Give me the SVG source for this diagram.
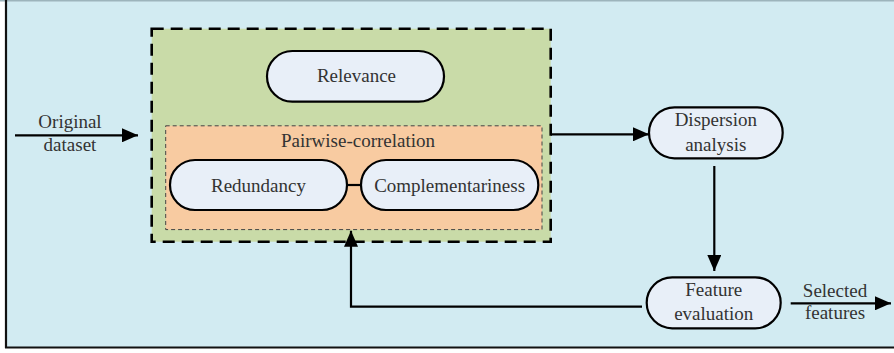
<svg xmlns="http://www.w3.org/2000/svg" width="894" height="353" viewBox="0 0 894 353">
<style>
text{font-family:"Liberation Serif","Times New Roman",serif;font-size:19px;fill:#333;text-anchor:middle}
.pill{fill:#E8EFF8;stroke:#000;stroke-width:2.2}
.ln{fill:none;stroke:#000;stroke-width:2.2}
</style>
<defs>
<marker id="ah" markerWidth="16" markerHeight="14" refX="16" refY="7" orient="auto" markerUnits="userSpaceOnUse">
<path d="M0,0 L16,7 L0,14 Z" fill="#000"/>
</marker>
</defs>
<rect x="0" y="0" width="894" height="353" fill="#fff"/>
<rect x="6" y="0.5" width="900" height="347" fill="#D2EBF2"/>
<line x1="0" y1="0.8" x2="894" y2="0.8" stroke="#9DB4BC" stroke-width="1.6"/>
<line x1="6" y1="0" x2="6" y2="348" stroke="#111" stroke-width="2.2"/>
<line x1="5" y1="347.5" x2="894" y2="347.5" stroke="#111" stroke-width="2.2"/>
<g id="green-box">
<rect x="151.7" y="28.7" width="399" height="213" fill="#C9DBA8" stroke="#000" stroke-width="2.6" stroke-dasharray="12,7"/>
</g>
<g id="pairwise-box">
<rect x="165.7" y="125.8" width="376.3" height="103.8" fill="#F8CBA1" stroke="#444" stroke-width="1" stroke-dasharray="4,3"/>
<text x="358" y="147">Pairwise-correlation</text>
</g>
<g id="connectors">
<line class="ln" x1="15" y1="135.3" x2="138" y2="135.3" marker-end="url(#ah)"/>
<line class="ln" x1="551" y1="134.3" x2="649" y2="134.3" marker-end="url(#ah)"/>
<line class="ln" x1="714.3" y1="166" x2="714.3" y2="271" marker-end="url(#ah)"/>
<polyline class="ln" points="642,306.7 351,306.7 351,230.7" marker-end="url(#ah)"/>
<line class="ln" x1="790.7" y1="303.3" x2="891" y2="303.3" marker-end="url(#ah)"/>
<line class="ln" x1="347" y1="185" x2="361" y2="185"/>
</g>
<g id="original-label">
<text x="70" y="128.3">Original</text>
<text x="70" y="151">dataset</text>
</g>
<g id="relevance">
<rect class="pill" x="267" y="51" width="177" height="50.7" rx="25.3"/>
<text x="356.5" y="82">Relevance</text>
</g>
<g id="redundancy">
<rect class="pill" x="170" y="160" width="177" height="50" rx="25"/>
<text x="258.5" y="192">Redundancy</text>
</g>
<g id="complementariness">
<rect class="pill" x="361" y="160" width="177.3" height="50" rx="25"/>
<text x="449.6" y="192">Complementariness</text>
</g>
<g id="dispersion">
<rect class="pill" x="649" y="107.3" width="133.7" height="51" rx="25.5"/>
<text x="715.8" y="126">Dispersion</text>
<text x="715.8" y="151">analysis</text>
</g>
<g id="feature-evaluation">
<rect class="pill" x="646.7" y="277.3" width="134" height="51" rx="25.5"/>
<text x="713.7" y="296">Feature</text>
<text x="713.7" y="320">evaluation</text>
</g>
<g id="selected-label">
<text x="835" y="296.7">Selected</text>
<text x="835" y="319">features</text>
</g>
</svg>
